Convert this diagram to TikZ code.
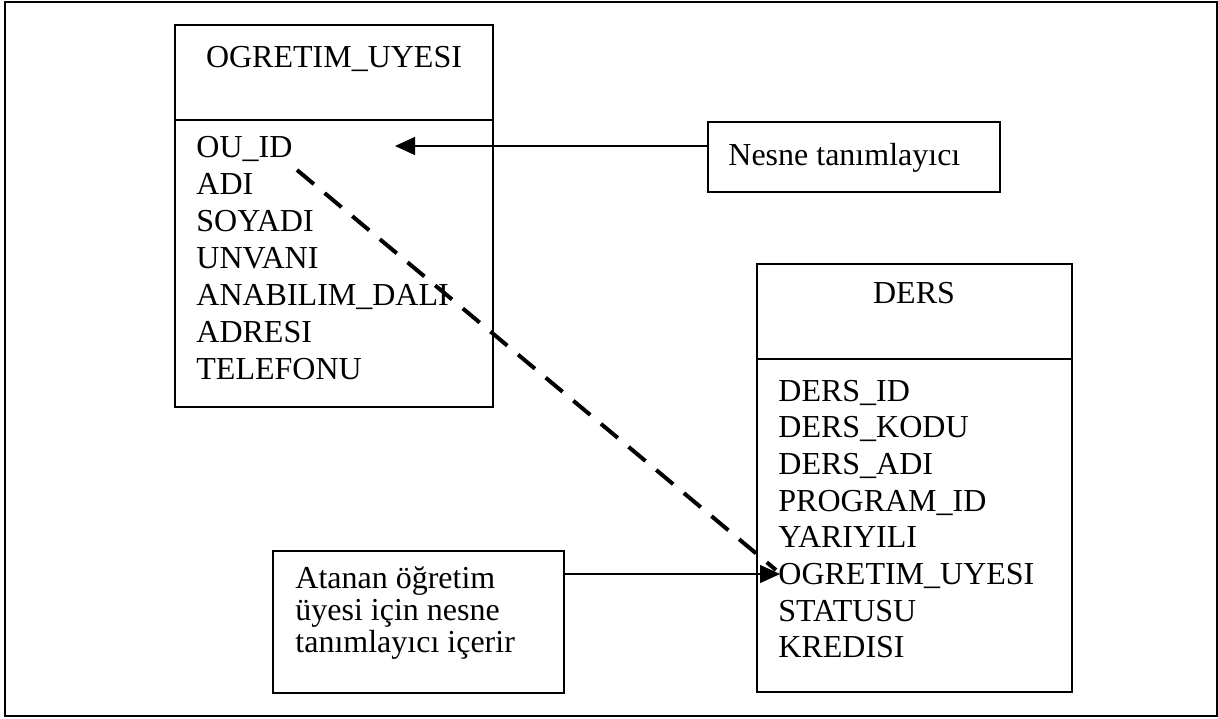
\documentclass[tikz,border=0pt]{standalone}
\usepackage{fontspec}
\setmainfont{Liberation Serif}
\usetikzlibrary{arrows.meta}
\begin{document}
\begin{tikzpicture}[x=0.5pt,y=-0.5pt,
  box/.style={draw, line width=0.8pt, inner sep=0pt},
  txt/.style={inner sep=0pt, font=\fontsize{16}{18.5}\selectfont},
  conn/.style={line width=0.6pt, -{Triangle[length=10pt,width=9pt]}},
  fk/.style={line width=2pt, dash pattern=on 11pt off 7pt}]
  \useasboundingbox (0,0) rectangle (1218,718);
  % outer frame
  \draw[line width=1pt] (5,2) rectangle (1217,716);

  % entity and note boxes
  \node[box, minimum width=159pt, minimum height=191pt] (ou) at (334,216) {};
  \node[box, minimum width=157.5pt, minimum height=214pt] (ders) at (914.5,478) {};
  \node[box, minimum width=146pt, minimum height=35pt] (nesne) at (854,157) {};
  \node[box, minimum width=145.5pt, minimum height=71pt] (atanan) at (418.5,622) {};

  % header separators
  \coordinate (ousep) at (0,120);
  \coordinate (derssep) at (0,359);
  \draw[line width=0.8pt] (ou.west |- ousep) -- (ou.east |- ousep);
  \draw[line width=0.8pt] (ders.west |- derssep) -- (ders.east |- derssep);

  % titles
  \node[txt, anchor=base] (outitle) at (334,67.5) {OGRETIM\_UYESI};
  \node[txt, anchor=base] (derstitle) at (914,303.5) {DERS};

  % attributes
  \foreach \t [count=\i] in {OU\_ID, ADI, SOYADI, UNVANI, ANABILIM\_DALI, ADRESI, TELEFONU}
    \node[txt, anchor=base west] (ou-\i) at (196,{157.5+37*(\i-1)}) {\t};
  \foreach \t [count=\i] in {DERS\_ID, DERS\_KODU, DERS\_ADI, PROGRAM\_ID, YARIYILI, OGRETIM\_UYESI, STATUSU, KREDISI}
    \node[txt, anchor=base west] (ders-\i) at (778,{401+36.7*(\i-1)}) {\t};

  % notes
  \node[txt, anchor=base west] (nesnetxt) at (728,165.5) {Nesne tanımlayıcı};
  \node[txt, anchor=base west] (at-1) at (295,588) {Atanan öğretim};
  \node[txt, anchor=base west] (at-2) at (295,620) {üyesi için nesne};
  \node[txt, anchor=base west] (at-3) at (295,652) {tanımlayıcı içerir};

  % connectors
  \coordinate (tipA) at (395,146);
  \coordinate (tipB) at (780,574);
  \draw[conn] (nesne.west |- tipA) -- (tipA);
  \draw[conn] (atanan.east |- tipB) -- (tipB);
  \coordinate (fkstart) at (297,170);
  \coordinate (fkend) at (776,570);
  \draw[fk] (fkstart) -- (fkend);
\end{tikzpicture}
\end{document}
